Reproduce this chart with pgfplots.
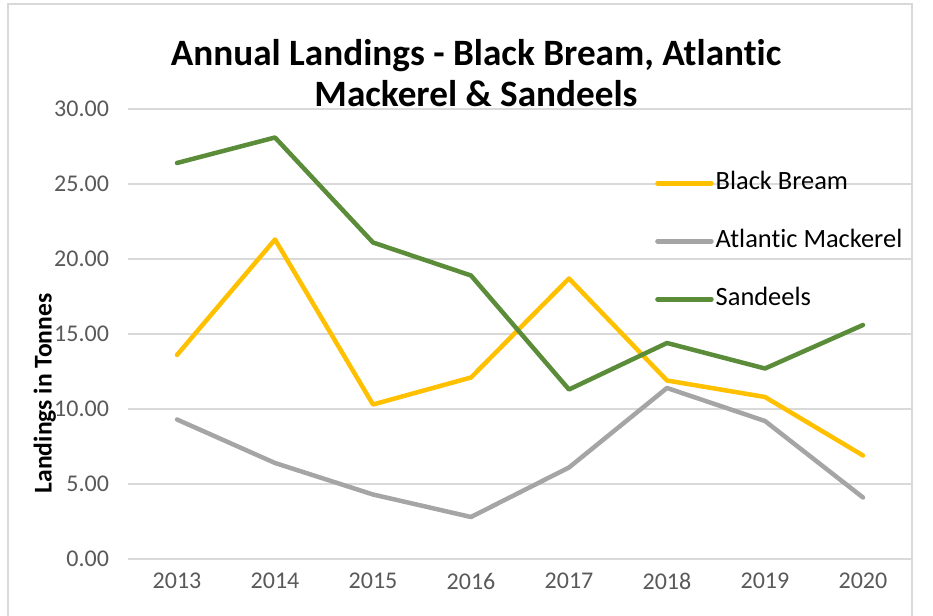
\documentclass[border=0pt]{standalone}
\usepackage{fontspec}
\setmainfont[Ligatures={NoCommon}]{Carlito}
\usepackage{pgfplots}
\pgfplotsset{compat=1.18}
\definecolor{cyellow}{HTML}{FFC000}
\definecolor{cgray}{HTML}{A5A5A5}
\definecolor{cgreen}{HTML}{5A8C3A}
\definecolor{cgrid}{HTML}{D9D9D9}
\definecolor{ctick}{HTML}{595959}
\begin{document}
\begin{tikzpicture}[x=1pt,y=1pt]
\useasboundingbox (0,0) rectangle (466.5,308);
\draw[cgrid, line width=0.75pt] (4,0) -- (4,306) -- (456,306) -- (456,0);
\node[font=\bfseries\fontsize{18.6}{20.5}\selectfont, align=center] at (238,271.5) {Annual Landings - Black Bream, Atlantic\\Mackerel \& Sandeels};
\begin{axis}[
  at={(64pt,28.5pt)}, anchor=south west,
  scale only axis, width=392pt, height=225pt,
  xmin=-0.5, xmax=7.5, ymin=0, ymax=30,
  xtick={0,1,2,3,4,5,6,7},
  xticklabels={2013,2014,2015,2016,2017,2018,2019,2020},
  ytick={0,5,10,15,20,25,30},
  axis line style={draw=none},
  major tick length=0pt,
  ymajorgrids, grid style={cgrid, line width=0.75pt},
  ticklabel style={font=\fontsize{12}{14}\selectfont, text=ctick},
  /pgf/number format/assume math mode=true,
  yticklabel style={/pgf/number format/fixed, /pgf/number format/fixed zerofill, /pgf/number format/precision=2, xshift=-6pt},
  xticklabel style={yshift=-3.5pt},
  ylabel={Landings in Tonnes},
  ylabel style={font=\bfseries\fontsize{12.8}{14}\selectfont, at={(axis description cs:-0.106,0.368)}, anchor=center},
  legend style={at={(axis description cs:0.672,0.868)}, anchor=north west, draw=none, fill=none,
    font=\fontsize{13.2}{15}\selectfont, inner sep=0pt, row sep=14.5pt,
    nodes={inner sep=1pt, text height=9.5pt, text depth=3pt}},
  legend cell align=left,
  legend image code/.code={\draw[#1, line width=2.25pt, line cap=round] (0pt,0pt) -- (27pt,0pt);},
  every axis plot/.append style={line width=2.25pt, line join=round, line cap=round},
]
\addplot[cyellow] coordinates {(0,13.6) (1,21.3) (2,10.3) (3,12.1) (4,18.7) (5,11.9) (6,10.8) (7,6.9)};
\addlegendentry{Black Bream}
\addplot[cgray] coordinates {(0,9.3) (1,6.4) (2,4.3) (3,2.8) (4,6.1) (5,11.4) (6,9.2) (7,4.1)};
\addlegendentry{Atlantic Mackerel}
\addplot[cgreen] coordinates {(0,26.4) (1,28.1) (2,21.1) (3,18.9) (4,11.3) (5,14.4) (6,12.7) (7,15.6)};
\addlegendentry{Sandeels}
\end{axis}
\end{tikzpicture}
\end{document}
